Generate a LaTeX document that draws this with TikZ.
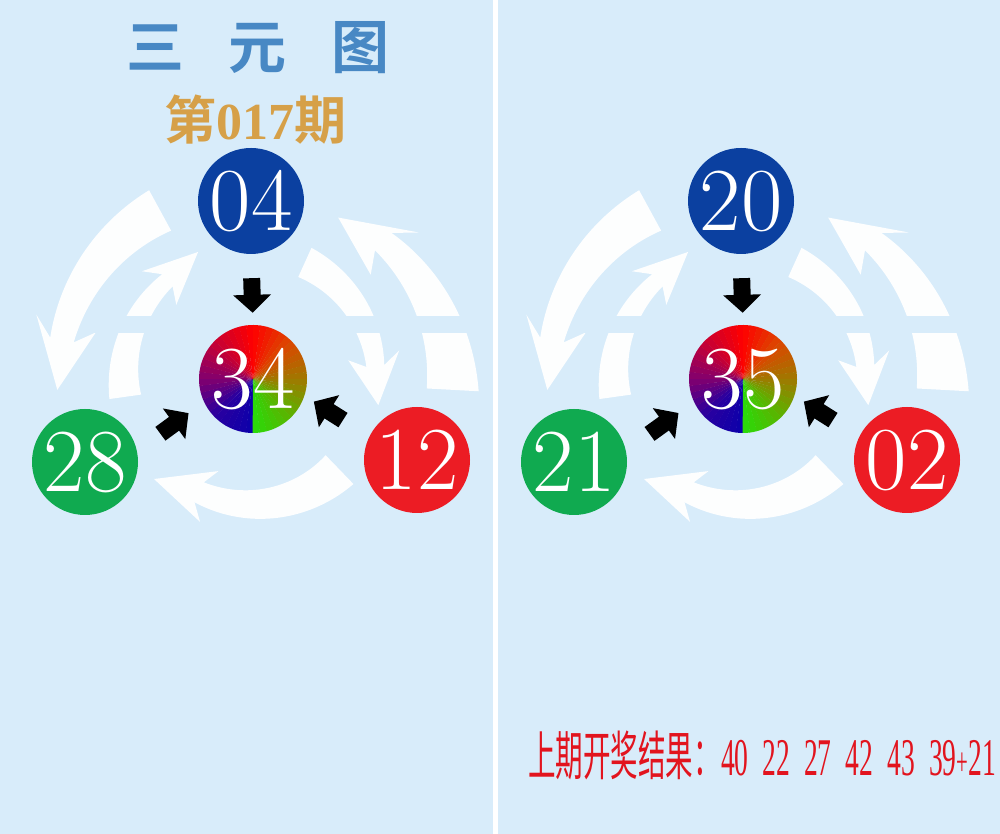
\documentclass[tikz,border=0pt]{standalone}
\usepackage{fontspec}
\newfontfamily\cjk{Noto Sans CJK SC}
\newfontfamily\cjkbold{Noto Sans CJK SC Bold}
\newfontfamily\numserif{Liberation Serif}
\usetikzlibrary{arrows.meta}
\definecolor{bgblue}{RGB}{216,236,250}
\definecolor{ballblue}{RGB}{11,64,160}
\definecolor{ballgreen}{RGB}{16,170,80}
\definecolor{ballred}{RGB}{236,28,36}
\definecolor{titleblue}{RGB}{72,136,196}
\definecolor{gold}{RGB}{214,160,72}
\definecolor{resred}{RGB}{226,20,30}
\definecolor{cs0}{RGB}{12,0,170}
\definecolor{cs1}{RGB}{40,0,160}
\definecolor{cs2}{RGB}{130,0,110}
\definecolor{cs3}{RGB}{200,0,50}
\definecolor{cs4}{RGB}{255,0,0}
\definecolor{cs5}{RGB}{220,70,0}
\definecolor{cs6}{RGB}{160,120,0}
\definecolor{cs7}{RGB}{90,180,0}
\definecolor{cs8}{RGB}{40,220,10}
\tikzset{
  flow/.style={fill=white, fill opacity=0.95},
  ball/.style={circle, minimum size=106pt, inner sep=0pt, text=white,
    font=\fontsize{90}{90}\selectfont},
  hub/.style={circle, minimum size=108pt, inner sep=0pt, text=white,
    font=\fontsize{90}{90}\selectfont},
  feed/.style={line width=17pt, -{Triangle[width=37pt,length=18pt]}},
}
% #1 tail angle, #2 head-base angle, #3 tip angle, #4 tail radius, #5 base radius,
% #6 tip radius, #7 tail half width, #8 base half width, #9 head half width
\newcommand{\bentarrow}[9]{%
  \pgfmathsetmacro\barbang{(#2)-5*sign((#3)-(#2))}%
  \fill[flow] plot[domain=#1:#2,samples=40]
    ({\x}:{#4+(#5-#4)*(\x-(#1))/((#2)-(#1))+#7+(#8-#7)*(\x-(#1))/((#2)-(#1))})
    -- ({\barbang}:{#5+#9}) -- ({#3}:{#6}) -- ({\barbang}:{#5-#9})
    -- plot[domain=#2:#1,samples=40]
    ({\x}:{#4+(#5-#4)*(\x-(#1))/((#2)-(#1))-#7-(#8-#7)*(\x-(#1))/((#2)-(#1))})
    -- cycle;}
\newcommand{\flowring}{%
  \bentarrow{118.6}{168.4}{183.2}{192}{194}{195}{23}{12}{31}
  \bentarrow{188}{130.6}{113}{128}{130}{138}{16}{8}{24}
  \bentarrow{65.6}{6}{-11.7}{128}{124}{129}{16}{9}{26}
  \bentarrow{-46}{-115}{-134.4}{126}{125}{140}{20}{11}{27}
  \bentarrow{-3.1}{46.3}{61.9}{201}{190}{183}{26}{12}{32}}
\newcommand{\conicball}{%
  \foreach \k/\ca/\cb in {0/cs0/cs1,1/cs1/cs2,2/cs2/cs3,3/cs3/cs4,4/cs4/cs5,5/cs5/cs6,6/cs6/cs7,7/cs7/cs8}{
    \foreach \j in {0,...,5}{
      \pgfmathsetmacro\aa{270-45*\k-7.5*\j}
      \pgfmathsetmacro\ab{\aa-7.9}
      \pgfmathtruncatemacro\pp{round(100*(\j+0.5)/6)}
      \colorlet{wedgec}{\cb!\pp!\ca}
      \fill[wedgec] (0,0) -- (\aa:54) arc[start angle=\aa,end angle=\ab,radius=54] -- cycle;
    }}}
\begin{document}
\begin{tikzpicture}[x=1pt,y=1pt]
\fill[bgblue] (0,0) rectangle (1000,834);
\useasboundingbox (0,0) rectangle (1000,834);
% flow arrows
\begin{scope}[shift={(252,455)}] \flowring \end{scope}
\begin{scope}[shift={(742,455)}] \flowring \end{scope}
\fill[bgblue] (92,501) rectangle (490,518);
\fill[bgblue] (582,501) rectangle (980,518);
% divider
\draw[white, line width=4.5pt] (495.5,0) -- (495.5,834);
% hub shading
\begin{scope}[shift={(253,455)}] \conicball \end{scope}
\begin{scope}[shift={(743,455)}] \conicball \end{scope}
% nodes, left
\node[ball, fill=ballblue] (t1) at (251,633) {04};
\node[hub] (c1) at (253,455) {34};
\node[ball, fill=ballgreen] (g1) at (85,372) {28};
\node[ball, fill=ballred] (r1) at (417,374) {12};
% nodes, right
\node[ball, fill=ballblue] (t2) at (741,633) {20};
\node[hub] (c2) at (743,455) {35};
\node[ball, fill=ballgreen] (g2) at (574,372) {21};
\node[ball, fill=ballred] (r2) at (907,374) {02};
% feed arrows
\draw[feed, shorten <=24pt, shorten >=12pt] (t1.south) -- (c1.north);
\draw[feed, shorten <=29pt, shorten >=19pt] (g1.12) -- (c1.205);
\draw[feed, shorten <=31pt, shorten >=11pt] (r1.154) -- (c1.342);
\draw[feed, shorten <=24pt, shorten >=12pt] (t2.south) -- (c2.north);
\draw[feed, shorten <=29pt, shorten >=19pt] (g2.12) -- (c2.205);
\draw[feed, shorten <=31pt, shorten >=11pt] (r2.154) -- (c2.342);
% texts
\node[text=titleblue, font=\cjkbold\fontsize{58}{58}\selectfont, inner sep=0pt]
  (title) at (258,786) {三\hspace{45pt}元\hspace{45pt}图};
\node[text=gold, inner sep=0pt] (issue) at (255,714)
  {\cjkbold\fontsize{52}{52}\selectfont 第{\numserif\bfseries 017}期};
\node[text=resred, anchor=base west, inner sep=0pt, xscale=0.52] (result) at (528,58)
  {{\cjk\fontsize{53}{53}\selectfont 上期开奖结果：}{\numserif\fontsize{53}{53}\selectfont 40\hspace{27pt}22\hspace{27pt}27\hspace{27pt}42\hspace{27pt}43\hspace{27pt}39{\fontsize{40}{40}\selectfont+}21}};
\end{tikzpicture}
\end{document}
